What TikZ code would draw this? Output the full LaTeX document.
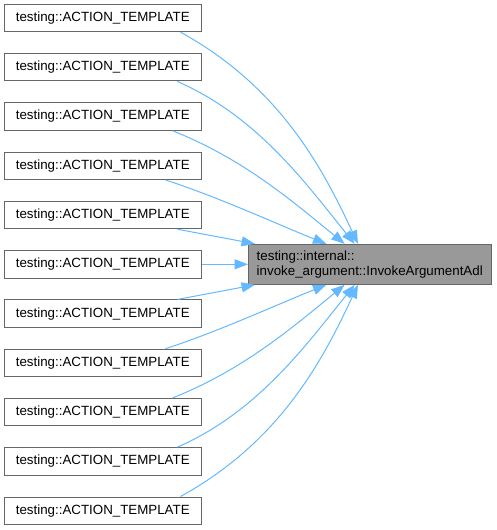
\documentclass[tikz,border=0pt]{standalone}
\usepackage{fontspec}
\setmainfont{Liberation Sans}
\usepackage{xcolor}
\usepackage{tikz}
\usetikzlibrary{arrows.meta,positioning,calc}

\definecolor{edgeblue}{HTML}{63B8FF}
\definecolor{bordergray}{HTML}{666666}
\definecolor{targetgray}{HTML}{999999}

\begin{document}
\begin{tikzpicture}[
    x=0.75pt, y=-0.75pt,
    node distance=15.7pt,
    box/.style={rectangle, draw=bordergray, fill=white, line width=0.75pt, minimum width=147.4pt, minimum height=20.5pt, inner sep=0pt, font=\fontsize{10}{12}\selectfont},
    target/.style={box, fill=targetgray, minimum width=182pt, minimum height=30pt, align=left, font=\fontsize{10}{11.5}\selectfont},
    arrow/.style={-{Triangle[length=10pt,width=7.5pt]}, draw=edgeblue, line width=0.75pt}
]
\useasboundingbox (0,0) rectangle (496,530);

\node[box] (b1) at (102.75,18) {testing::ACTION\_TEMPLATE};
\node[box, below=of b1] (b2) {testing::ACTION\_TEMPLATE};
\node[box, below=of b2] (b3) {testing::ACTION\_TEMPLATE};
\node[box, below=of b3] (b4) {testing::ACTION\_TEMPLATE};
\node[box, below=of b4] (b5) {testing::ACTION\_TEMPLATE};
\node[box, below=of b5] (b6) {testing::ACTION\_TEMPLATE};
\node[box, below=of b6] (b7) {testing::ACTION\_TEMPLATE};
\node[box, below=of b7] (b8) {testing::ACTION\_TEMPLATE};
\node[box, below=of b8] (b9) {testing::ACTION\_TEMPLATE};
\node[box, below=of b9] (b10) {testing::ACTION\_TEMPLATE};
\node[box, below=of b10] (b11) {testing::ACTION\_TEMPLATE};
\node[target, right=34.8pt of b6] (adl) {testing::internal::\\invoke\_argument::InvokeArgumentAdl};

\draw[arrow] ($(b1.south east)+(-21,0)$) .. controls +(100,55) and +(-35,-75) .. ($(adl.north west)+(110,0)$);
\draw[arrow] ($(b2.south east)+(-24.3,0)$) .. controls +(80,35) and +(-50,-62) .. ($(adl.north west)+(106.7,0)$);
\draw[arrow] ($(b3.south east)+(-29,0)$) .. controls +(70,28) and +(-55,-45) .. ($(adl.north west)+(96.7,0)$);
\draw[arrow] ($(b4.south east)+(-36,0)$) .. controls +(55,18) and +(-50,-20) .. ($(adl.north west)+(78.4,0)$);
\draw[arrow] ($(b5.south east)+(-24,0)$) -- ($(adl.north west)+(7,0)$);
\draw[arrow] (b6) -- (adl);
\draw[arrow] ($(b7.north east)+(-24,0)$) -- ($(adl.south west)+(7,0)$);
\draw[arrow] ($(b8.north east)+(-36,0)$) .. controls +(55,-18) and +(-50,20) .. ($(adl.south west)+(78.4,0)$);
\draw[arrow] ($(b9.north east)+(-29,0)$) .. controls +(70,-28) and +(-55,45) .. ($(adl.south west)+(96.7,0)$);
\draw[arrow] ($(b10.north east)+(-24.3,0)$) .. controls +(80,-35) and +(-50,62) .. ($(adl.south west)+(106.7,0)$);
\draw[arrow] ($(b11.north east)+(-21,0)$) .. controls +(100,-55) and +(-35,75) .. ($(adl.south west)+(110,0)$);
\end{tikzpicture}
\end{document}
